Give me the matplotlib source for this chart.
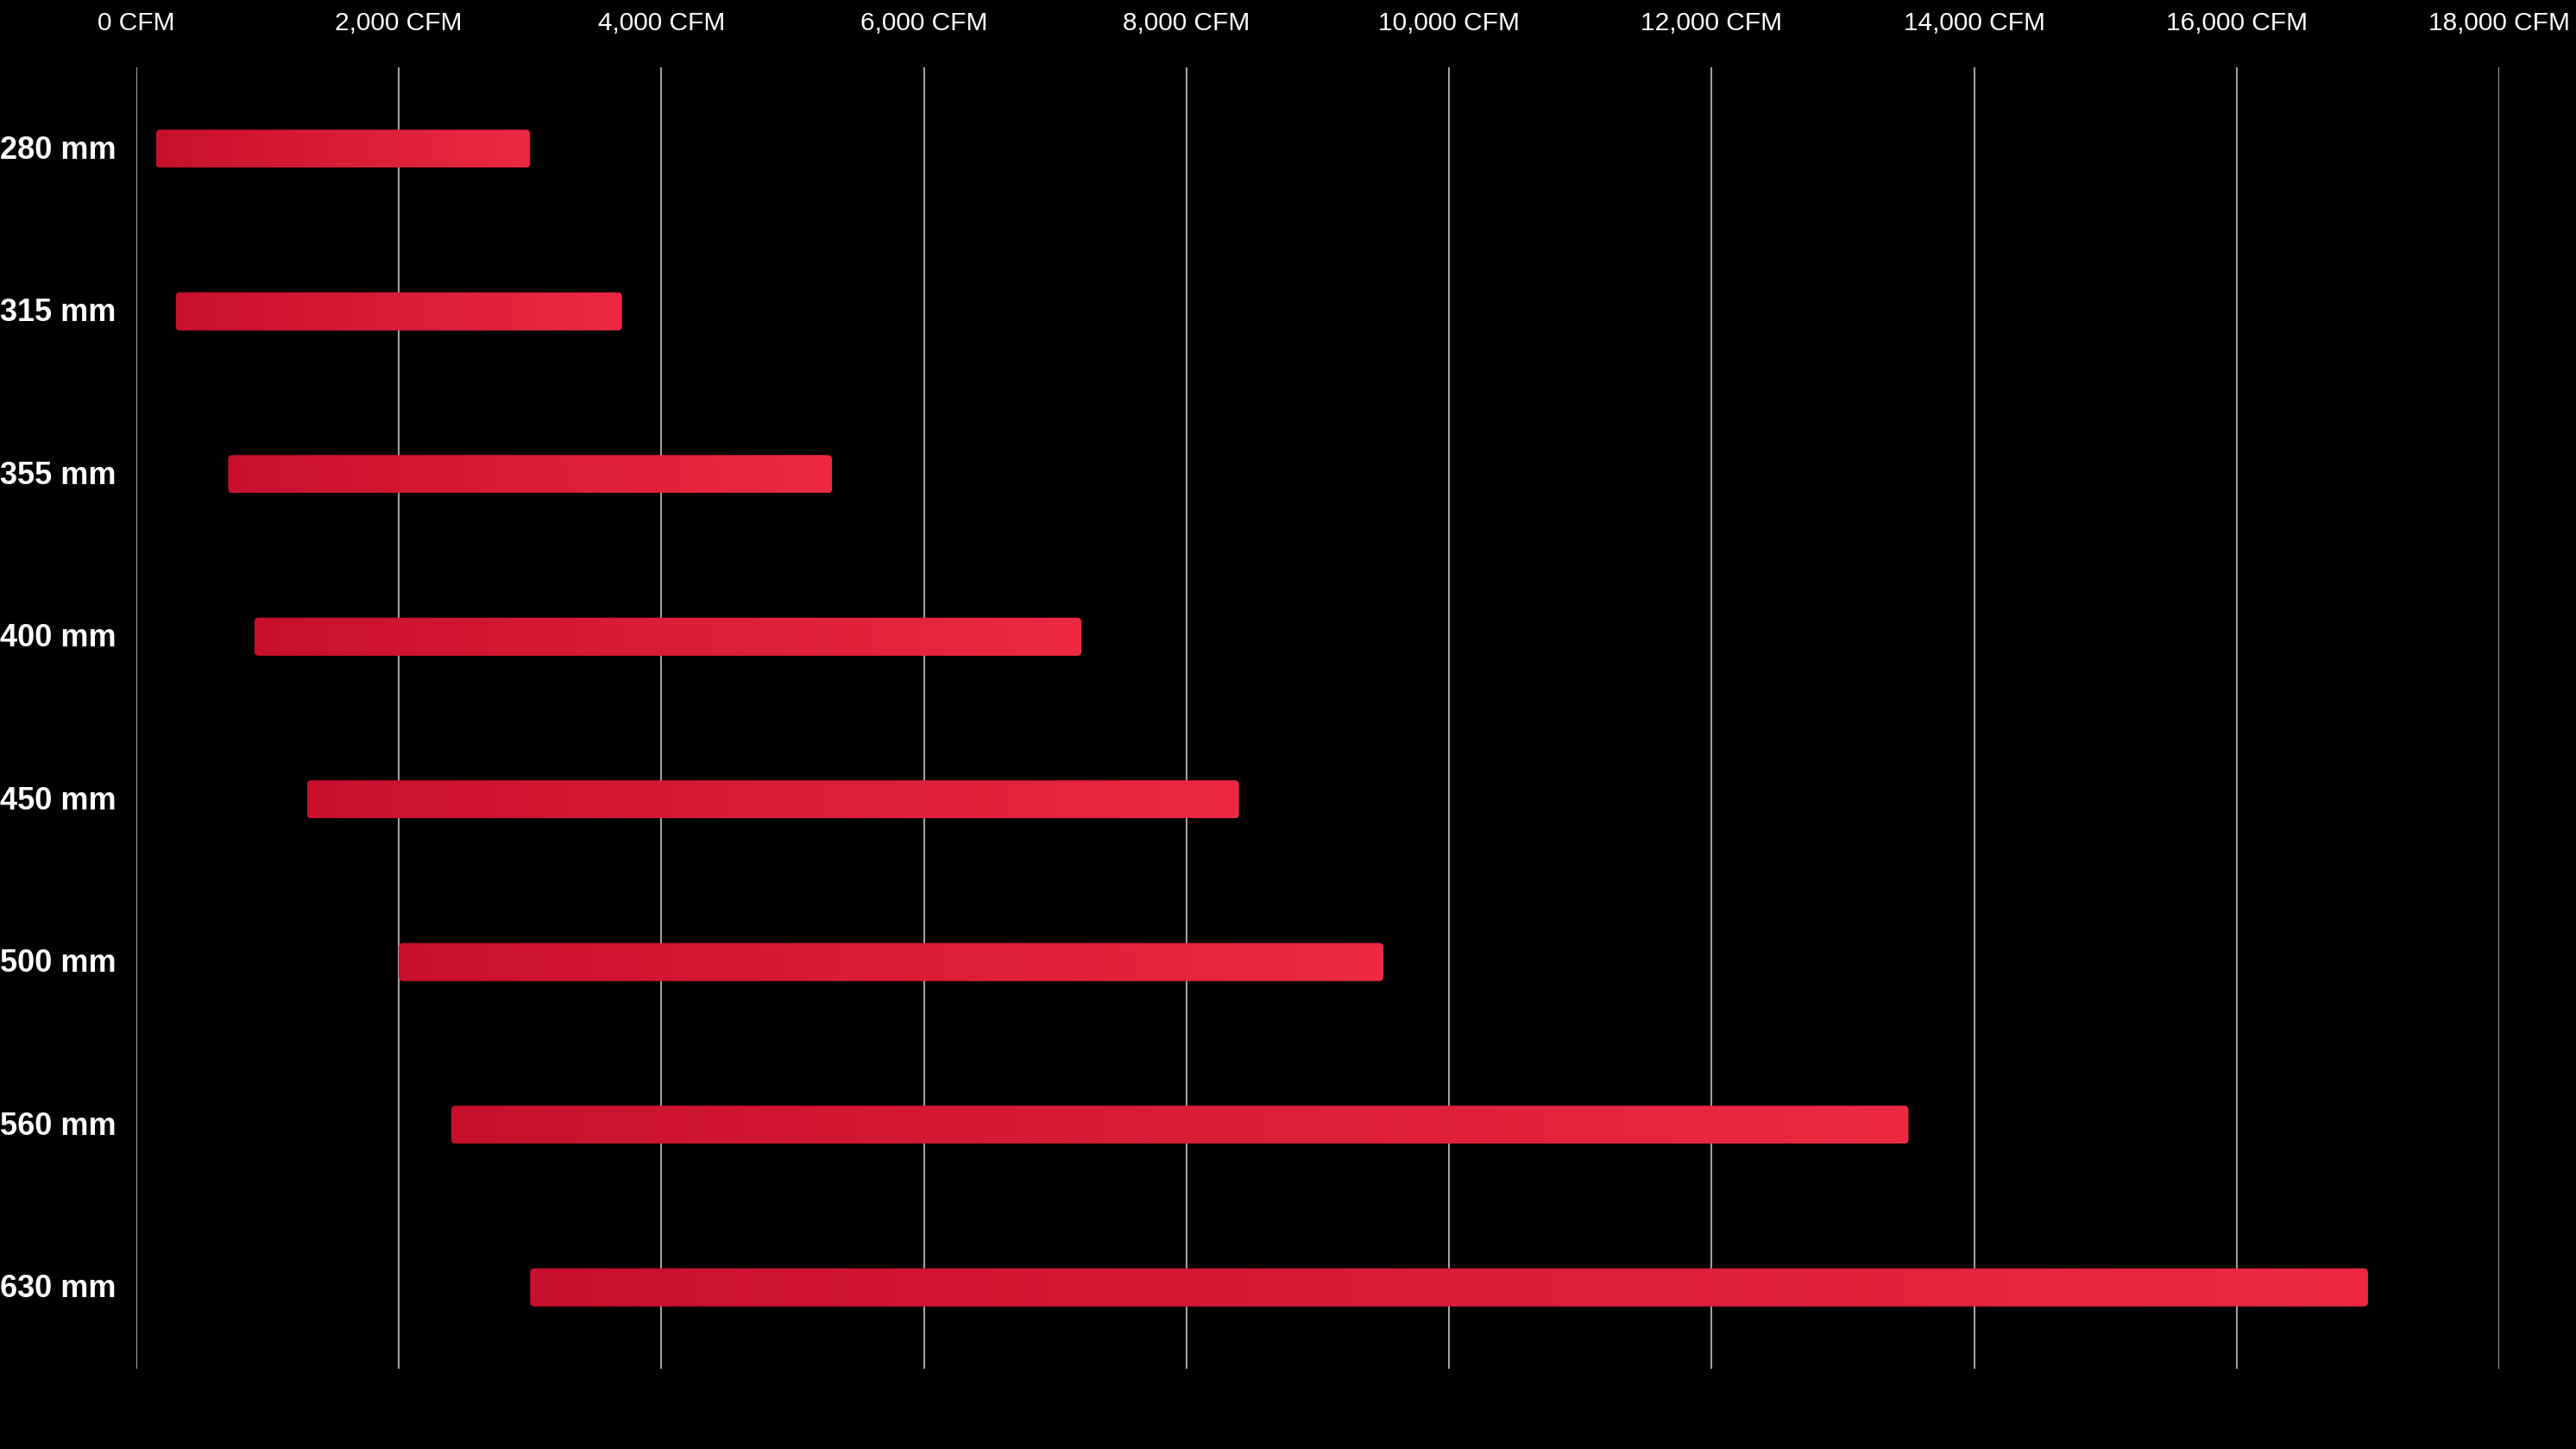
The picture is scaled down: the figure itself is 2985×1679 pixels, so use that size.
import matplotlib.pyplot as plt
import numpy as np
from matplotlib.colors import LinearSegmentedColormap
from matplotlib.patches import FancyBboxPatch
from matplotlib.ticker import FuncFormatter

# dane: zakres wydajnosci dla kazdej srednicy
sizes = ['280 mm', '315 mm', '355 mm', '400 mm', '450 mm', '500 mm', '560 mm', '630 mm']
cfm_min = [150, 300, 700, 900, 1300, 2000, 2400, 3000]
cfm_max = [3000, 3700, 5300, 7200, 8400, 9500, 13500, 17000]
ticks = list(range(0, 18001, 2000))

plt.rcParams['font.family'] = ['Liberation Sans', 'DejaVu Sans']

fig = plt.figure(figsize=(29.85, 16.79), dpi=100, facecolor='black')
ax = fig.add_axes([0.0529, 0.0554, 0.9173, 0.8981])
ax.set_facecolor('black')

ax.set_xlim(0, 18000)
ax.set_ylim(len(sizes) - 0.5, -0.5)

cmap = LinearSegmentedColormap.from_list('red', ['#C8102E', '#EC2941'])
grad = np.linspace(0, 1, 256).reshape(1, -1)
h = 0.234

# przeliczenie zaokraglenia (px -> jednostki danych)
px_x = 18000 / (0.9173 * 2985)
px_y = len(sizes) / (0.8981 * 1679)
r = 5 * px_x

for i, (a, b) in enumerate(zip(cfm_min, cfm_max)):
    box = FancyBboxPatch((a, i - h / 2), b - a, h,
                         boxstyle=f'round,pad=0,rounding_size={r}',
                         mutation_aspect=px_y / px_x,
                         facecolor='none', edgecolor='none', zorder=3)
    ax.add_patch(box)
    im = ax.imshow(grad, cmap=cmap, aspect='auto', interpolation='bilinear',
                   extent=(a, b, i + h / 2, i - h / 2), zorder=3)
    im.set_clip_path(box)
    ax.text(-0.0529 * 18000 / 0.9173, i + 0.01, sizes[i], color='white',
            fontsize=26, fontweight='bold', ha='left', va='center')

ax.set_xticks(ticks)
ax.xaxis.set_major_formatter(FuncFormatter(lambda v, p: f'{int(v):,} CFM'))
ax.xaxis.tick_top()
ax.tick_params(axis='x', length=0, pad=27, labelsize=21.5, colors='white')
ax.set_yticks([])
ax.grid(axis='x', color='#A0A0A0', linewidth=1.5, zorder=1)
ax.set_axisbelow(True)
for s in ax.spines.values():
    s.set_visible(False)

fig.savefig('out.png', dpi=100, facecolor='black')
